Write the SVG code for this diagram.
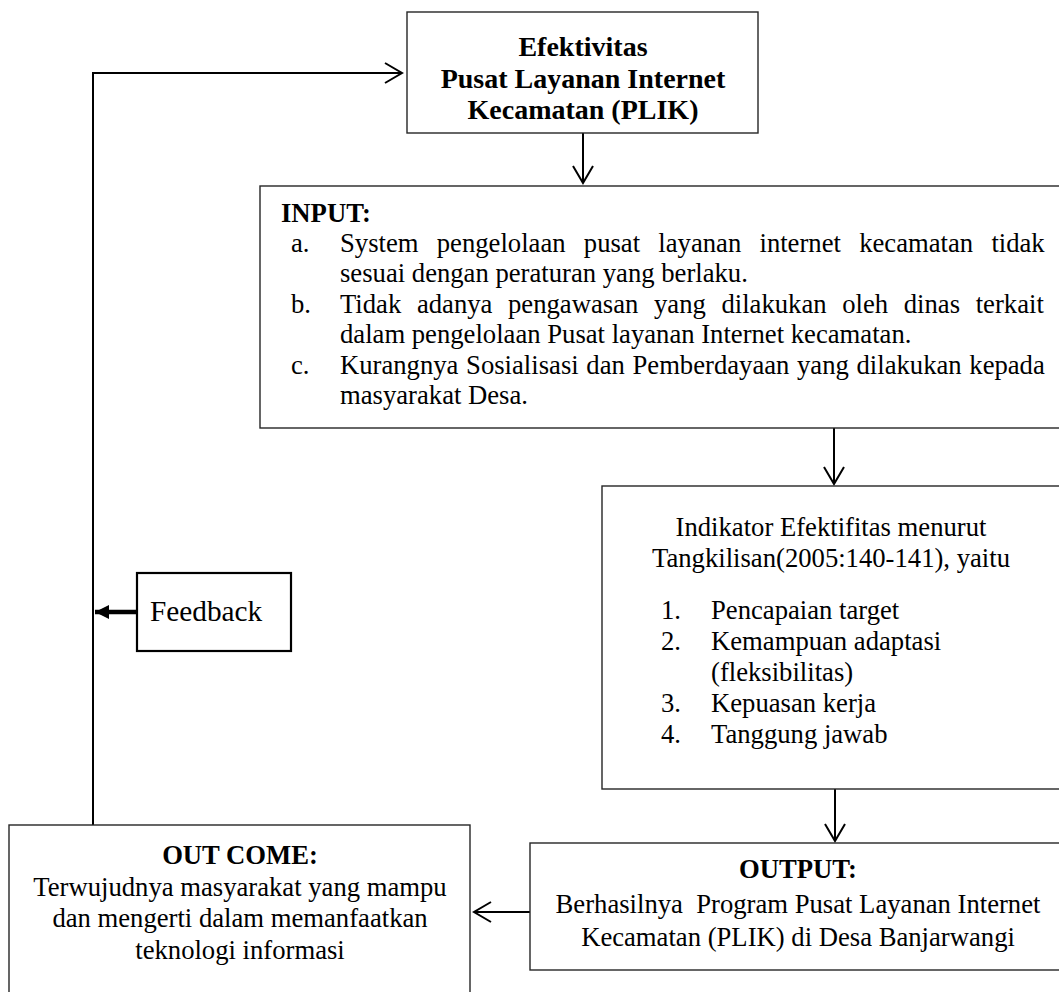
<svg xmlns="http://www.w3.org/2000/svg" width="1059" height="992" viewBox="0 0 1059 992">
<style>
.box{fill:#fff;stroke:#262626;stroke-width:1.4}
.t{font-family:"Liberation Serif","Times New Roman",serif;font-size:26.67px;fill:#000}
.b{font-weight:bold}
.ttl{font-family:"Liberation Serif","Times New Roman",serif;font-size:28px;font-weight:bold;fill:#000}
.c{text-anchor:middle}
.ln{fill:none;stroke:#000;stroke-width:2}
</style>
<defs>
<marker id="chev" markerUnits="userSpaceOnUse" viewBox="-20 -12 22 24" markerWidth="22" markerHeight="24" refX="0" refY="0" orient="auto" overflow="visible">
<path d="M-17,-10 L0,0 L-17,10" fill="none" stroke="#000" stroke-width="2"/>
</marker>
<marker id="solid" markerUnits="userSpaceOnUse" viewBox="-16 -8 17 16" markerWidth="17" markerHeight="16" refX="0" refY="0" orient="auto" overflow="visible">
<path d="M-14,-7 L0,0 L-14,7 Z" fill="#000"/>
</marker>
</defs>
<rect width="1059" height="992" fill="#fff"/>

<g id="connectors">
<polyline class="ln" points="93,825 93,73 402,73" marker-end="url(#chev)"/>
<line class="ln" x1="583" y1="133" x2="583" y2="183" marker-end="url(#chev)"/>
<line class="ln" x1="834" y1="428" x2="834" y2="484" marker-end="url(#chev)"/>
<line class="ln" x1="835" y1="789" x2="835" y2="841" marker-end="url(#chev)"/>
<line class="ln" x1="530" y1="912" x2="474" y2="912" marker-end="url(#chev)"/>
<line x1="137" y1="612" x2="95" y2="612" stroke="#000" stroke-width="4.5" marker-end="url(#solid)"/>
</g>

<g id="node-efektivitas">
<rect class="box" x="407" y="12" width="351" height="121"/>
<text class="ttl c" x="583" y="56">Efektivitas</text>
<text class="ttl c" x="583" y="88">Pusat Layanan Internet</text>
<text class="ttl c" x="583" y="119">Kecamatan (PLIK)</text>
</g>

<g id="node-input">
<rect class="box" x="260" y="186" width="810" height="242"/>
<text class="t b" x="281" y="222">INPUT:</text>
<text class="t" x="291" y="252">a.</text>
<text class="t" x="340" y="252" word-spacing="11.6">System pengelolaan pusat layanan internet kecamatan tidak</text>
<text class="t" x="340" y="282">sesuai dengan peraturan yang berlaku.</text>
<text class="t" x="291" y="313">b.</text>
<text class="t" x="340" y="313" word-spacing="9">Tidak adanya pengawasan yang dilakukan oleh dinas terkait</text>
<text class="t" x="340" y="343">dalam pengelolaan Pusat layanan Internet kecamatan.</text>
<text class="t" x="291" y="374">c.</text>
<text class="t" x="340" y="374" word-spacing="1">Kurangnya Sosialisasi dan Pemberdayaan yang dilakukan kepada</text>
<text class="t" x="340" y="404">masyarakat Desa.</text>
</g>

<g id="node-indikator">
<rect class="box" x="602" y="486" width="470" height="303"/>
<text class="t c" x="831" y="536">Indikator Efektifitas menurut</text>
<text class="t c" x="831" y="567">Tangkilisan(2005:140-141), yaitu</text>
<text class="t" x="661" y="619">1.</text>
<text class="t" x="711" y="619">Pencapaian target</text>
<text class="t" x="661" y="650">2.</text>
<text class="t" x="711" y="650">Kemampuan adaptasi</text>
<text class="t" x="711" y="681">(fleksibilitas)</text>
<text class="t" x="661" y="712">3.</text>
<text class="t" x="711" y="712">Kepuasan kerja</text>
<text class="t" x="661" y="743">4.</text>
<text class="t" x="711" y="743">Tanggung jawab</text>
</g>

<g id="node-output">
<rect class="box" x="530" y="843" width="540" height="127"/>
<text class="t b c" x="798" y="878">OUTPUT:</text>
<text class="t c" x="798" y="913" style="white-space:pre">Berhasilnya  Program Pusat Layanan Internet</text>
<text class="t c" x="798" y="946">Kecamatan (PLIK) di Desa Banjarwangi</text>
</g>

<g id="node-outcome">
<rect class="box" x="9" y="825" width="461" height="180"/>
<text class="t b c" x="240" y="864">OUT COME:</text>
<text class="t c" x="240" y="896">Terwujudnya masyarakat yang mampu</text>
<text class="t c" x="240" y="927">dan mengerti dalam memanfaatkan</text>
<text class="t c" x="240" y="959">teknologi informasi</text>
</g>

<g id="node-feedback">
<rect x="137" y="573" width="154" height="78" fill="#fff" stroke="#000" stroke-width="2.2"/>
<text class="t" x="150" y="621" style="font-size:29.3px">Feedback</text>
</g>
</svg>
